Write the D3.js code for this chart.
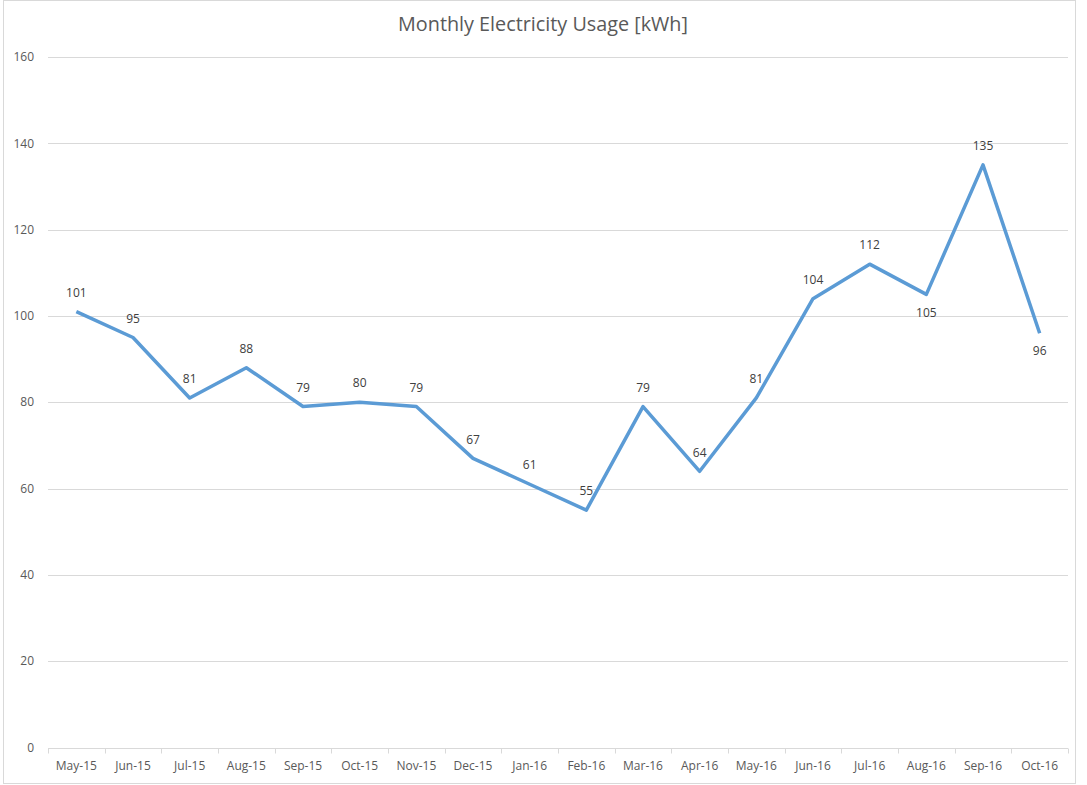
<!DOCTYPE html>
<html>
<head>
<meta charset="utf-8">
<script src="https://cdn.jsdelivr.net/npm/d3@7"></script>
<style>
    body { margin: 0; background: #fff; }
    svg { display: block; }
</style>
</head>
<body>
<svg id="chart" width="1087" height="785"></svg>
<script>
const months = ["May-15", "Jun-15", "Jul-15", "Aug-15", "Sep-15", "Oct-15", "Nov-15", "Dec-15", "Jan-16",
    "Feb-16", "Mar-16", "Apr-16", "May-16", "Jun-16", "Jul-16", "Aug-16", "Sep-16", "Oct-16"];
const usage = [101, 95, 81, 88, 79, 80, 79, 67, 61, 55, 79, 64, 81, 104, 112, 105, 135, 96];
const labelSide = ["above", "above", "above", "above", "above", "above", "above", "above", "above",
    "above", "above", "above", "above", "above", "above", "below", "above", "below"];
const yTicks = [0, 20, 40, 60, 80, 100, 120, 140, 160];

const width = 1087, height = 785;
const margin = {top: 57, right: 19, bottom: 37, left: 48};
const font = "'Open Sans', 'Noto Sans', sans-serif";
const textColor = "#595959";

const svg = d3.select("#chart");

// outer chart border
svg.append("rect")
    .attr("x", 3.5).attr("y", 0.5)
    .attr("width", 1072).attr("height", 783)
    .attr("fill", "#fff")
    .attr("stroke", "#d9d9d9");

const x = d3.scaleBand()
    .domain(months)
    .range([margin.left, width - margin.right]);

const y = d3.scaleLinear()
    .domain([0, 160])
    .range([height - margin.bottom - 0.5, margin.top]);

// gridlines
svg.append("g")
    .selectAll("line")
    .data(yTicks)
    .join("line")
    .attr("x1", margin.left)
    .attr("x2", width - margin.right)
    .attr("y1", d => Math.round(y(d)) + 0.5)
    .attr("y2", d => Math.round(y(d)) + 0.5)
    .attr("stroke", "#d9d9d9");

// y tick labels
svg.append("g")
    .selectAll("text")
    .data(yTicks)
    .join("text")
    .attr("x", 34)
    .attr("y", d => y(d))
    .attr("dy", "0.35em")
    .attr("text-anchor", "end")
    .attr("font-family", font)
    .attr("font-size", 12)
    .attr("fill", textColor)
    .text(d => d);

// category axis tick marks
const xAxisY = Math.round(y(0)) + 0.5;
const bounds = months.map(m => x(m)).concat([x.range()[1]]);
svg.append("g")
    .selectAll("line")
    .data(bounds)
    .join("line")
    .attr("x1", d => Math.round(d) + 0.5)
    .attr("x2", d => Math.round(d) + 0.5)
    .attr("y1", xAxisY)
    .attr("y2", xAxisY + 5)
    .attr("stroke", "#d9d9d9");

svg.append("g")
    .selectAll("text")
    .data(months)
    .join("text")
    .attr("x", d => x(d) + x.bandwidth() / 2)
    .attr("y", 766)
    .attr("dy", "0.35em")
    .attr("text-anchor", "middle")
    .attr("font-family", font)
    .attr("font-size", 12)
    .attr("fill", textColor)
    .text(d => d);

// the line
const line = d3.line()
    .x((d, i) => x(months[i]) + x.bandwidth() / 2)
    .y(d => y(d));

svg.append("path")
    .attr("d", line(usage))
    .attr("fill", "none")
    .attr("stroke", "#5b9bd5")
    .attr("stroke-width", 3.5)
    .attr("stroke-linejoin", "round");

// data labels
svg.append("g")
    .selectAll("text")
    .data(usage)
    .join("text")
    .attr("x", (d, i) => x(months[i]) + x.bandwidth() / 2)
    .attr("y", (d, i) => y(d) + (labelSide[i] === "above" ? -19 : 18))
    .attr("dy", "0.35em")
    .attr("text-anchor", "middle")
    .attr("font-family", font)
    .attr("font-size", 12)
    .attr("fill", "#404040")
    .text(d => d);

// title
svg.append("text")
    .attr("x", 543)
    .attr("y", 24)
    .attr("dy", "0.35em")
    .attr("text-anchor", "middle")
    .attr("font-family", font)
    .attr("font-size", 19.8)
    .attr("fill", textColor)
    .text("Monthly Electricity Usage [kWh]");
</script>
</body>
</html>
